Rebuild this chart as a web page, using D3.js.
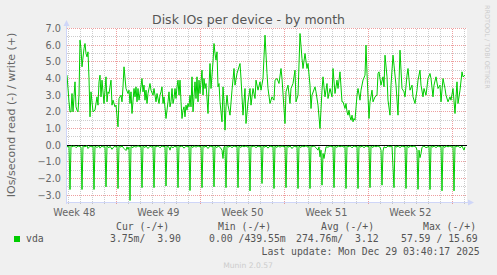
<!DOCTYPE html>
<html><head><meta charset="utf-8">
<script src="https://cdn.jsdelivr.net/npm/d3@7"></script>
<style>html,body{margin:0;padding:0;background:#f0f0f0;}svg{display:block}</style>
</head><body><svg id="c" width="497" height="275"></svg>
<script>
// ---------- data ----------
const chartTitle = "Disk IOs per device - by month";
const yAxisLabel = "IOs/second read (-) / write (+)";
const watermark = "RRDTOOL / TOBI OETIKER";
const versionText = "Munin 2.0.57";
const lastUpdate = "Last update: Mon Dec 29 03:40:17 2025";
const startTime = "2025-11-25T21:20:00Z";
const spanHours = 800;
const yMajorTicks = [-3, -2, -1, 0, 1, 2, 3, 4, 5, 6, 7];
const seriesName = "vda";
const legendHeaders = ["Cur (-/+)", "Min (-/+)", "Avg (-/+)", "Max (-/+)"];
const legendValues = ["3.75m/  3.90", "0.00 /439.55m", "274.76m/  3.12", "57.59 / 15.69"];

// [hours since start, write IOs/s]
const writeSeries = [
[0,4.2],[4,2.6],[6,2.0],[8,2.0],[10,3.1],[12,2.0],[16,3.8],[18,2.3],[20,2.1],[22,2.0],[24,3.0],[26,6.3],[28,5.8],[30,4.7],[34,5.8],[36,6.1],[38,5.5],[40,5.3],[42,5.6],[44,4.0],[46,1.7],[48,3.2],[52,2.0],[56,2.1],[60,2.9],[62,2.4],[64,3.8],[66,4.2],[68,2.9],[70,3.9],[74,2.5],[78,4.1],[80,2.6],[82,3.2],[84,3.1],[88,3.9],[90,2.4],[92,2.7],[96,2.3],[98,2.4],[102,1.1],[104,2.8],[108,3.0],[110,2.6],[112,3.5],[114,4.7],[118,3.4],[122,3.1],[124,3.3],[126,2.5],[128,3.2],[130,1.9],[134,3.4],[136,2.9],[138,3.5],[140,2.6],[142,3.4],[144,2.7],[146,3.1],[150,4.0],[152,3.2],[154,3.6],[156,2.7],[158,3.3],[160,2.5],[162,3.1],[166,3.7],[168,3.3],[172,3.0],[174,3.4],[178,2.6],[180,3.1],[184,2.5],[186,3.0],[188,3.2],[190,3.5],[192,2.5],[194,2.9],[198,1.6],[202,2.6],[204,3.2],[206,2.3],[208,2.6],[210,3.4],[212,2.5],[214,2.8],[216,3.4],[218,2.8],[220,3.5],[222,3.9],[224,3.0],[226,3.9],[228,2.6],[230,1.6],[232,2.1],[234,2.3],[236,1.7],[238,2.4],[240,2.1],[242,2.5],[244,2.3],[246,3.0],[248,2.3],[250,4.1],[252,2.0],[256,3.8],[258,2.8],[260,4.1],[262,2.6],[264,3.9],[266,3.1],[270,4.5],[272,3.0],[274,4.0],[276,3.4],[278,3.7],[282,1.9],[284,3.5],[286,4.9],[288,3.4],[292,5.0],[294,6.1],[296,5.5],[298,5.1],[300,5.6],[302,3.5],[304,3.7],[306,2.6],[308,2.0],[310,1.4],[312,3.5],[314,2.6],[316,0.9],[318,2.3],[320,3.0],[322,2.4],[326,1.8],[330,3.3],[334,4.6],[336,3.6],[340,4.3],[346,4.9],[348,4.0],[352,1.8],[356,3.4],[358,1.3],[362,2.6],[366,3.4],[368,2.4],[372,3.4],[376,2.8],[378,3.9],[382,3.3],[386,3.8],[388,3.3],[392,4.0],[396,6.6],[400,4.3],[402,3.4],[406,2.5],[410,2.9],[414,2.7],[416,3.9],[420,4.0],[424,3.7],[428,4.6],[430,4.0],[436,1.3],[438,3.2],[442,3.6],[446,2.5],[448,3.4],[452,3.7],[456,4.5],[458,2.6],[462,3.0],[466,6.7],[470,5.2],[472,4.6],[476,5.5],[480,4.6],[482,4.9],[486,3.6],[488,2.2],[490,3.0],[496,3.5],[498,3.2],[502,2.4],[506,1.0],[510,3.3],[512,4.1],[516,2.9],[520,3.7],[522,2.8],[526,3.4],[530,2.9],[532,4.6],[536,3.1],[540,3.9],[542,3.4],[546,4.4],[550,2.6],[552,2.6],[556,2.2],[558,2.5],[560,2.0],[562,1.8],[564,2.1],[566,1.7],[568,1.5],[570,1.8],[572,1.4],[574,1.6],[576,1.5],[580,3.0],[582,3.4],[586,2.7],[588,3.3],[592,3.9],[596,4.2],[598,6.0],[600,4.3],[604,1.6],[606,2.6],[610,3.3],[612,2.6],[616,2.9],[620,3.0],[622,4.3],[624,4.4],[628,3.6],[632,4.1],[634,3.5],[636,5.4],[640,4.1],[642,2.7],[646,1.8],[648,3.6],[652,5.4],[654,4.8],[658,3.6],[662,1.8],[666,5.7],[668,4.5],[670,3.4],[674,3.2],[676,2.9],[680,4.2],[682,4.6],[686,3.3],[690,3.6],[692,2.9],[696,2.5],[700,3.3],[702,3.9],[706,4.5],[708,3.6],[712,2.9],[714,3.4],[718,3.0],[722,4.0],[726,4.3],[728,4.0],[732,2.9],[734,3.6],[738,4.1],[742,3.4],[746,3.6],[748,2.6],[752,4.0],[756,3.4],[758,3.0],[762,2.6],[766,2.9],[768,2.7],[772,3.4],[776,1.9],[780,3.8],[782,2.5],[786,3.3],[790,4.4],[792,4.1],[796,4.2]
];

// [hours since start, read IOs/s (drawn negative)]
const readSeries = [
[0,-0.05],[2,-0.12],[4,-0.06],[6,-2.66],[8,-0.04],[12,-0.1],[14,-0.03],[18,-0.15],[22,-0.05],
[26,-0.08],[28,-0.12],[30,-2.66],[32,-0.05],[36,-0.1],[40,-0.03],[42,-0.2],[46,-0.06],
[50,-0.1],[52,-0.05],[54,-2.66],[56,-0.06],[60,-0.14],[64,-0.04],[66,-0.18],[70,-0.05],
[74,-0.12],[76,-0.08],[78,-2.5],[80,-0.05],[84,-0.16],[86,-0.06],[90,-0.25],[94,-0.08],
[98,-0.1],[100,-0.06],[102,-2.6],[104,-0.05],[108,-0.12],[110,-0.04],[114,-0.2],[118,-0.32],[120,-0.1],
[122,-0.25],[124,-0.12],[126,-3.32],[128,-0.08],[132,-0.15],[134,-0.05],[138,-0.12],[142,-0.04],
[146,-0.1],[148,-0.06],[150,-2.55],[152,-0.05],[156,-0.14],[158,-0.05],[162,-0.2],[166,-0.06],
[170,-0.12],[172,-0.05],[174,-2.55],[176,-0.06],[180,-0.1],[182,-0.04],[186,-0.16],[190,-0.05],
[194,-0.1],[196,-0.06],[198,-2.45],[200,-0.05],[204,-0.12],[206,-0.3],[208,-0.08],[212,-0.15],[216,-0.05],
[218,-0.12],[220,-0.06],[222,-2.55],[224,-0.05],[228,-0.1],[230,-0.04],[234,-0.18],[238,-0.06],
[242,-0.1],[244,-0.05],[246,-2.72],[248,-0.06],[252,-0.14],[254,-0.04],[258,-0.12],[262,-0.05],
[266,-0.1],[268,-0.06],[270,-2.55],[272,-0.05],[276,-0.12],[278,-0.04],[282,-0.2],[286,-0.05],
[290,-0.1],[292,-0.05],[294,-2.5],[296,-0.06],[300,-0.15],[302,-0.05],[306,-0.12],[310,-0.3],[312,-0.8],[314,-0.1],
[316,-0.06],[318,-2.55],[320,-0.05],[324,-0.12],[326,-0.04],[330,-0.15],[334,-0.05],
[338,-0.1],[340,-0.06],[342,-2.55],[344,-0.05],[348,-0.14],[350,-0.04],[354,-0.1],[358,-0.05],
[362,-0.12],[364,-0.06],[366,-2.74],[368,-0.05],[372,-0.1],[374,-0.04],[378,-0.15],[382,-0.06],
[386,-0.1],[388,-0.05],[390,-2.3],[392,-0.06],[396,-0.12],[398,-0.04],[402,-0.18],[406,-0.05],
[410,-0.1],[412,-0.06],[414,-2.6],[416,-0.05],[420,-0.14],[422,-0.04],[426,-0.12],[430,-0.05],
[434,-0.1],[436,-0.06],[438,-2.55],[440,-0.05],[444,-0.12],[446,-0.04],[450,-0.2],[454,-0.06],
[458,-0.1],[460,-0.05],[462,-2.6],[464,-0.06],[468,-0.14],[470,-0.05],[474,-0.1],[478,-0.04],
[482,-0.12],[484,-0.06],[486,-2.6],[488,-0.05],[492,-0.1],[494,-0.04],[498,-0.15],[502,-0.3],[504,-0.1],
[506,-0.7],[508,-0.3],[510,-2.4],[512,-0.5],[514,-0.8],[516,-0.45],[518,-0.1],[522,-0.12],[526,-0.05],
[530,-0.1],[532,-0.06],[534,-2.55],[536,-0.05],[540,-0.14],[542,-0.04],[546,-0.1],[550,-0.05],
[554,-0.12],[556,-0.06],[558,-2.6],[560,-0.05],[564,-0.1],[566,-0.04],[570,-0.16],[574,-0.05],
[578,-0.1],[580,-0.06],[582,-2.6],[584,-0.05],[588,-0.12],[590,-0.04],[594,-0.15],[598,-0.05],
[602,-0.1],[604,-0.06],[606,-2.55],[608,-0.05],[612,-0.14],[614,-0.04],[618,-0.1],[622,-0.05],
[626,-0.12],[628,-0.3],[630,-2.4],[632,-0.35],[634,-0.1],[638,-0.16],[642,-0.05],
[646,-0.1],[650,-0.06],[654,-2.55],[656,-0.05],[660,-0.12],[662,-0.04],[666,-0.15],[670,-0.05],
[674,-0.1],[676,-0.06],[678,-2.6],[680,-0.05],[684,-0.14],[686,-0.04],[690,-0.1],[694,-0.05],
[698,-0.12],[700,-0.3],[702,-2.65],[704,-0.3],[706,-0.75],[708,-0.5],[710,-0.12],[714,-0.06],[718,-0.15],
[722,-0.1],[724,-0.06],[726,-2.66],[728,-0.05],[732,-0.12],[734,-0.04],[738,-0.15],[742,-0.05],
[746,-0.1],[748,-0.06],[750,-2.74],[752,-0.05],[756,-0.14],[758,-0.04],[762,-0.1],[766,-0.05],
[770,-0.12],[772,-0.06],[774,-2.74],[776,-0.05],[780,-0.1],[782,-0.04],[786,-0.16],[790,-0.05],[794,-0.3],[796,-0.1]
];

// ---------- drawing ----------
const svg = d3.select("#c");
const W = 497, H = 275;
const X0 = 67, X1 = 467, YTOP = 28.5, YBOT = 203.5;
const t0 = new Date(startTime);
const t1 = d3.utcHour.offset(t0, spanHours);
const toDate = h => d3.utcHour.offset(t0, h);

const x = d3.scaleUtc().domain([t0, t1]).range([X0, X1]);
const y = d3.scaleLinear().domain([-3.5, 7]).range([YBOT, YTOP]);
const snap = v => Math.floor(v) + 0.5;
const keepSpaces = s => s.replace(/ /g, "\u00a0");

const GREEN = "#00cc00", FONT = "#666666", AXIS = "#cfd6f8";
const MINOR = "rgba(143,143,143,0.45)", MAJOR = "rgba(222,80,80,0.55)";

svg.append("rect").attr("width", W).attr("height", H).attr("fill", "#f0f0f0");
svg.append("rect").attr("x", X0).attr("y", YTOP - 0.5).attr("width", X1 - X0).attr("height", YBOT - YTOP)
  .attr("fill", "#ffffff");

const grid = svg.append("g").attr("shape-rendering", "crispEdges");
// minor horizontal grid (every 0.5)
d3.range(-3.0, 7.01, 0.5).filter(v => Math.abs(v - Math.round(v)) > 0.01).forEach(v => {
  grid.append("line").attr("x1", X0).attr("x2", X1).attr("y1", snap(y(v))).attr("y2", snap(y(v)))
    .attr("stroke", MINOR).attr("stroke-dasharray", "1,1");
});
// minor vertical grid (every day)
const days = d3.utcDay.range(t0, t1);
const sundays = d3.utcSunday.range(t0, t1);
days.filter(d => d.getUTCDay() !== 0).forEach(d => {
  const xx = snap(x(d));
  grid.append("line").attr("x1", xx).attr("x2", xx).attr("y1", YTOP).attr("y2", YBOT)
    .attr("stroke", MINOR).attr("stroke-dasharray", "1,1");
});
// major horizontal grid
yMajorTicks.filter(v => v !== 0).forEach(v => {
  grid.append("line").attr("x1", X0).attr("x2", X1).attr("y1", snap(y(v))).attr("y2", snap(y(v)))
    .attr("stroke", MAJOR).attr("stroke-dasharray", "1,1");
});
// major vertical grid (weeks)
sundays.forEach(d => {
  const xx = snap(x(d));
  grid.append("line").attr("x1", xx).attr("x2", xx).attr("y1", YTOP).attr("y2", YBOT)
    .attr("stroke", MAJOR).attr("stroke-dasharray", "1,1");
});

// y tick labels
const fmt = d3.format(".1f");
svg.append("g").selectAll("text").data(yMajorTicks).join("text")
  .attr("x", 61).attr("y", d => snap(y(d)) + 3.5)
  .attr("text-anchor", "end").attr("font-family", "DejaVu Sans").attr("font-size", 9.7)
  .attr("fill", FONT).text(d => fmt(d));

// x week labels at mid-week
const weekLabels = d3.utcSunday.range(d3.utcDay.offset(t0, -7), t1)
  .map(s => d3.utcHour.offset(s, 84))
  .filter(m => x(m) >= X0 && x(m) <= X1);
const wfmt = d3.utcFormat("Week %V");
svg.append("g").selectAll("text").data(weekLabels).join("text")
  .attr("x", d => x(d)).attr("y", 216)
  .attr("text-anchor", "middle").attr("font-family", "DejaVu Sans").attr("font-size", 9.7)
  .attr("fill", FONT).text(d => wfmt(d));

// zero line
svg.append("line").attr("x1", X0).attr("x2", X1).attr("y1", snap(y(0))).attr("y2", snap(y(0)))
  .attr("stroke", "#000").attr("shape-rendering", "crispEdges");

// series
const line = d3.line().x(d => x(toDate(d[0]))).y(d => y(d[1]));
svg.append("path").datum(readSeries).attr("d", line).attr("fill", "none")
  .attr("stroke", GREEN).attr("stroke-width", 1);
svg.append("path").datum(writeSeries).attr("d", line).attr("fill", "none")
  .attr("stroke", GREEN).attr("stroke-width", 1);

// axes
const ax = svg.append("g");
ax.append("line").attr("x1", 66.5).attr("x2", 66.5).attr("y1", YBOT).attr("y2", 24)
  .attr("stroke", AXIS).attr("shape-rendering", "crispEdges");
ax.append("path").attr("d", "M63.5,26 L66.5,20 L69.5,26 Z").attr("fill", AXIS);
ax.append("line").attr("x1", X0 - 1).attr("x2", 470).attr("y1", YBOT - 1).attr("y2", YBOT - 1)
  .attr("stroke", AXIS).attr("shape-rendering", "crispEdges");
ax.append("path").attr("d", `M468,${YBOT - 4} L474,${YBOT - 1} L468,${YBOT + 2} Z`).attr("fill", AXIS);

// title
svg.append("text").attr("x", 248.5).attr("y", 24).attr("text-anchor", "middle")
  .attr("font-family", "DejaVu Sans").attr("font-size", 12.5).attr("fill", "#555")
  .text(chartTitle);
// y label
svg.append("text").attr("transform", "translate(15,115) rotate(-90)").attr("text-anchor", "middle")
  .attr("font-family", "DejaVu Sans").attr("font-size", 11).attr("fill", FONT).text(yAxisLabel);
// watermark
svg.append("text").attr("transform", "translate(485,5) rotate(90)")
  .attr("font-family", "DejaVu Sans").attr("font-size", 6.5).attr("fill", "#cccccc").text(watermark);

// legend
const mono = "DejaVu Sans Mono";
const hdrX = [116, 218, 321, 423];
const valX = [110, 209, 296, 401];
const lg = svg.append("g").attr("font-family", mono).attr("font-size", 9.8).attr("fill", "#555");
lg.selectAll("text.h").data(legendHeaders).join("text").attr("class", "h")
  .attr("x", (d, i) => hdrX[i]).attr("y", 230).text(d => keepSpaces(d));
lg.selectAll("text.v").data(legendValues).join("text").attr("class", "v")
  .attr("x", (d, i) => valX[i]).attr("y", 241.5).text(d => keepSpaces(d));
lg.append("text").attr("x", 26).attr("y", 241.5).text(seriesName);
lg.append("text").attr("x", 261.5).attr("y", 254.5).text(keepSpaces(lastUpdate));
svg.append("rect").attr("x", 14).attr("y", 236).attr("width", 6).attr("height", 6).attr("fill", GREEN);
svg.append("text").attr("x", 248).attr("y", 268).attr("text-anchor", "middle")
  .attr("font-family", "DejaVu Sans").attr("font-size", 7.6).attr("fill", "#cccccc").text(versionText);
</script></body></html>
